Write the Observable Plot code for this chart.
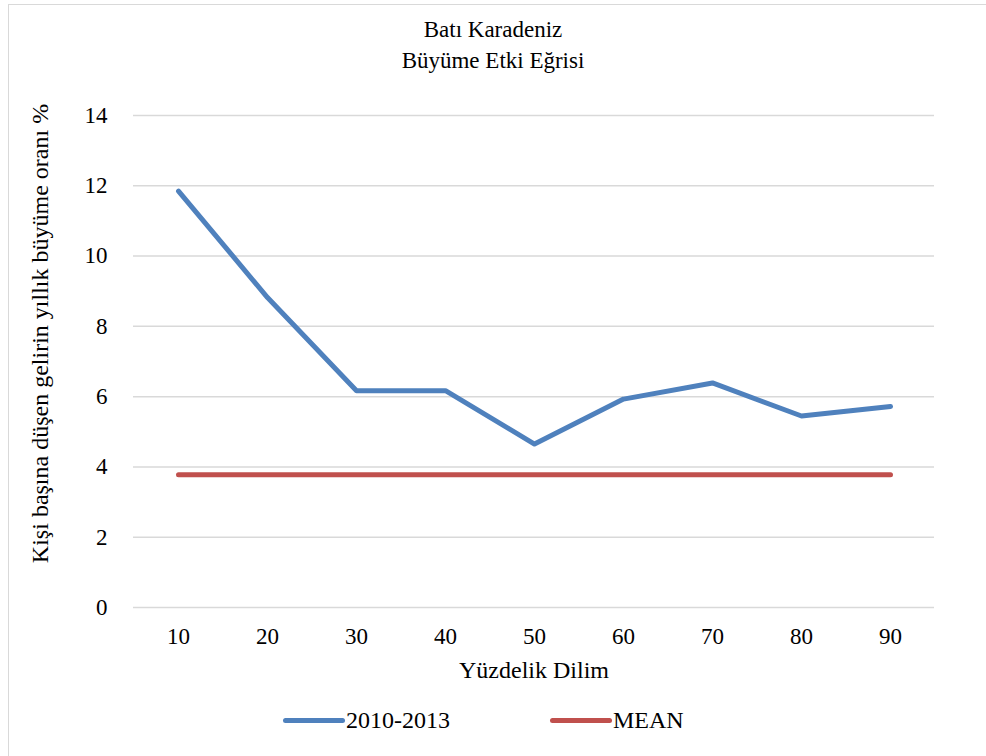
<!DOCTYPE html>
<html><head><meta charset="utf-8">
<script src="https://cdn.jsdelivr.net/npm/d3@7"></script>
<script src="https://cdn.jsdelivr.net/npm/@observablehq/plot@0.6"></script>
<style>
body{margin:0;background:#fff;}
#wrap{position:relative;width:986px;height:756px;overflow:hidden;}
#frame{position:absolute;left:8px;top:4px;width:990px;height:770px;border:1px solid #d9d9d9;box-sizing:border-box;}
#title{position:absolute;left:0;top:14px;width:986px;text-align:center;font-size:23px;line-height:31px;color:#000;}
#chart{position:absolute;left:0;top:0;}
#legend{position:absolute;left:0;top:705px;width:986px;height:30px;font-size:24px;}
.item{position:absolute;top:0;display:flex;align-items:center;height:30px;}
.sw{width:62px;height:5px;border-radius:3px;margin-right:1px;}
</style></head>
<body>
<div id="wrap">
<div id="frame"></div>
<div id="chart"></div>
<div id="title">Batı Karadeniz<br>Büyüme Etki Eğrisi</div>
<div id="legend"></div>
</div>
<script>
const percentiles = ["10","20","30","40","50","60","70","80","90"];
const growth2010_2013 = [11.85, 8.82, 6.17, 6.17, 4.65, 5.93, 6.39, 5.45, 5.72];
const meanValue = [3.78, 3.78, 3.78, 3.78, 3.78, 3.78, 3.78, 3.78, 3.78];
const yTicks = [0, 2, 4, 6, 8, 10, 12, 14];
const seriesNames = ["2010-2013", "MEAN"];
const seriesColors = ["#4f81bd", "#c0504d"];

const rows = [];
percentiles.forEach((p, i) => {
  rows.push({x: p, y: growth2010_2013[i], s: seriesNames[0]});
  rows.push({x: p, y: meanValue[i], s: seriesNames[1]});
});

const serif = "'Liberation Serif', serif";
const chart = Plot.plot({
  width: 986,
  height: 756,
  marginLeft: 133,
  marginRight: 52,
  marginTop: 115,
  marginBottom: 149,
  style: {fontFamily: serif, fontSize: "23px", color: "#000", background: "transparent", overflow: "visible"},
  x: {type: "point", domain: percentiles, padding: 0.5, label: null},
  y: {domain: [0, 14], label: null},
  color: {domain: seriesNames, range: seriesColors},
  marks: [
    Plot.ruleY(yTicks, {stroke: "#d9d9d9", strokeWidth: 1.5}),
    Plot.axisY(yTicks, {tickSize: 0, tickPadding: 26, fontSize: 23, label: null}),
    Plot.axisX(percentiles, {tickSize: 0, tickPadding: 20, fontSize: 23, label: null}),
    Plot.line(rows, {x: "x", y: "y", z: "s", stroke: "s", strokeWidth: 5, strokeLinecap: "round", strokeLinejoin: "round"}),
    Plot.text(["Yüzdelik Dilim"], {frameAnchor: "bottom", dy: 70, fontSize: 24, fill: "#000"}),
    Plot.text(["Kişi başına düşen gelirin yıllık büyüme oranı %"], {frameAnchor: "left", textAnchor: "middle", dx: -93, dy: -28, rotate: -90, fontSize: 24, fill: "#000", lineWidth: 100})
  ]
});
document.getElementById("chart").appendChild(chart);

const lg = document.getElementById("legend");
const positions = [283, 550];
seriesNames.forEach((n, i) => {
  const it = document.createElement("div");
  it.className = "item";
  it.style.left = positions[i] + "px";
  it.innerHTML = `<div class="sw" style="background:${seriesColors[i]}"></div><span>${n}</span>`;
  lg.appendChild(it);
});
document.querySelectorAll("body, body *").forEach(el => el.style.setProperty("font-family", serif, "important"));
</script>
</body></html>
